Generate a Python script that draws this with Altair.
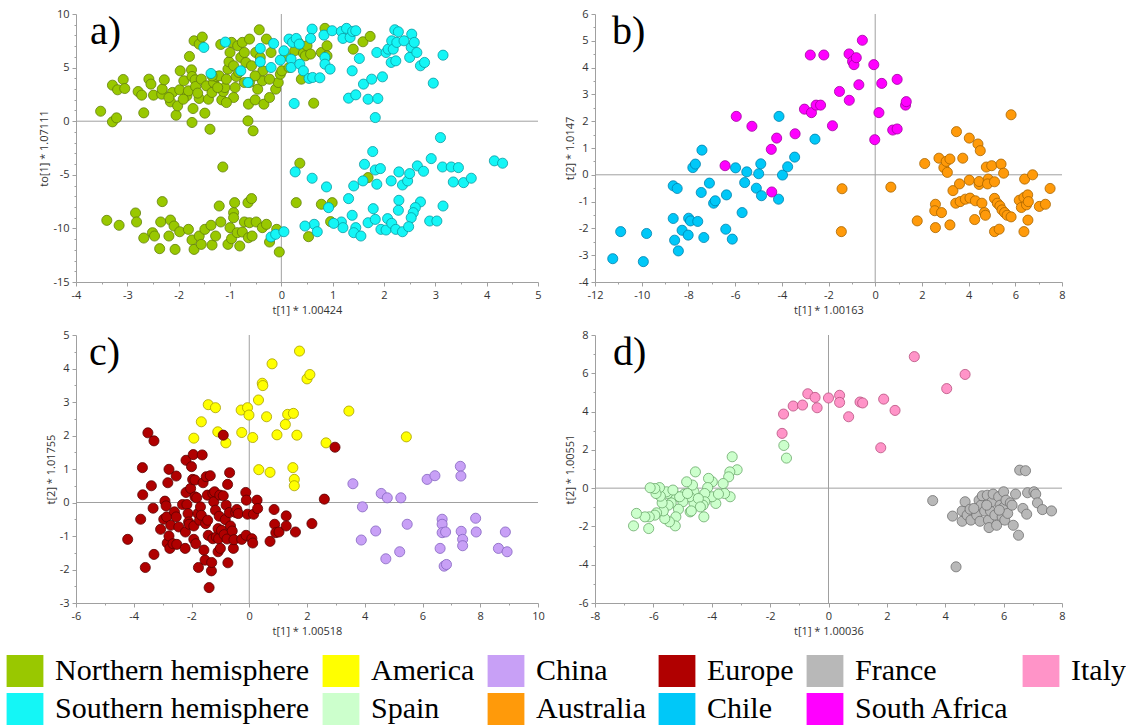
import altair as alt
import numpy as np
import pandas as pd

CATEGORIES = ["Northern hemisphere", "America", "China", "Europe", "France", "Italy",
              "Southern hemisphere", "Spain", "Australia", "Chile", "South Africa"]
FILL_COLORS = ["#99c800", "#ffff00", "#c8a0f6", "#b00000", "#b8b8b8", "#ff94c8",
               "#14f6f6", "#ccffcc", "#ff9a0a", "#00c8f8", "#ff00ff"]
EDGE_COLORS = ["#62800a", "#a89f00", "#8464c0", "#5a0000", "#707070", "#b8507f",
               "#0a9aa2", "#6aa86a", "#a86400", "#0080ac", "#a000a0"]

# ---- panel a ----
NORTH_X = [-3.52, -3.29, -3.19, -3.08, -3.05, -3.29, -3.21, -2.79, -2.72, -2.68, -2.58, -2.54, -2.49, -2.33,
           -2.32, -2.28, -2.16, -2.12, -2.05, -2.02, -1.98, -1.97, -1.90, -1.84, -1.81, -1.79, -1.75, -1.74,
           -1.74, -1.72, -1.70, -1.68, -1.67, -1.60, -1.60, -1.54, -1.56, -1.49, -1.46, -1.42, -1.39, -1.35,
           -1.32, -1.27, -1.21, -1.18, -1.16, -1.14, -1.13, -1.10, -1.07, -1.04, -1.02, -1.00, -0.97, -0.93,
           -0.90, -0.88, -0.85, -0.79, -0.76, -0.72, -0.69, -0.65, -0.64, -0.62, -0.58, -0.55, -0.51, -0.50,
           -0.46, -0.43, -0.37, -0.36, -0.34, -0.29, -0.23, -0.20, -0.11, -0.06, -0.02, 0.01, 0.08, 0.15,
           0.26, 0.33, 0.39, 0.43, 0.47, 0.50, 0.57, 0.63, 0.78, 0.85, 0.89, 0.89, 1.59, 1.73, 1.40, -0.41,
           -0.23, -0.93, -1.07, -1.35, -1.24, -2.19, -1.91, -1.63, -0.83, -0.72, -0.62, -0.51,
           -3.40, -3.16, -2.84, -2.82, -2.68, -2.51, -2.47, -2.37, -2.32, -2.35, -2.16, -2.19, -2.07, -2.09,
           -1.98, -1.81, -1.74, -1.70, -1.60, -1.56, -1.49, -1.35, -1.37, -1.28, -1.21, -1.18, -1.04, -1.00,
           -0.97, -0.93, -0.93, -0.91, -0.86, -0.81, -0.72, -0.76, -0.65, -0.64, -0.58, -0.62, -0.57, -0.49,
           -0.37, -0.29, -0.23, -0.04, -0.09, 0.36, 0.29, 0.53, 0.78, 0.99, 0.96, 1.69]
NORTH_Y = [0.93, 3.36, 2.93, 3.89, 3.05, -0.06, 0.31, 2.77, 2.43, 0.78, 3.92, 3.46, 2.43, 2.52,
           2.99, 3.86, 1.81, 2.68, 0.56, 1.43, 2.93, 4.70, 3.77, 2.37, 2.83, 6.04, 4.79, 4.17,
           -0.12, 1.18, 7.50, 3.86, 3.24, 7.19, 2.12, 7.85, 3.92, 0.75, 3.30, 2.05, -0.75, 2.68,
           3.61, 4.17, 4.23, 7.16, 1.99, -4.27, 2.77, 3.14, 3.92, 4.86, 5.54, 6.41, 7.35, 5.17,
           3.14, 4.17, 7.04, 5.95, 7.35, 6.41, 5.48, 0.03, 1.59, 7.66, 5.17, -0.90, 1.99, 6.41,
           2.99, 8.53, 3.77, 4.70, 1.59, 7.66, 2.21, 6.41, 2.99, 3.61, 4.39, 4.70, 6.10, 5.01,
           6.57, 7.35, 3.92, 6.35, 6.10, 7.04, 6.26, 1.68, 6.41, 8.66, 7.04, 6.10, 7.41, 7.91, 6.72, 5.95,
           3.92, 2.21, 1.74, 4.23, 3.14, 2.21, 2.05, 2.62, 4.55, 3.61, 3.61, 4.23,
           -9.25, -9.71, -8.56, -9.40, -10.90, -10.40, -10.71, -11.89, -7.50, -9.40, -9.22, -10.71, -11.96, -9.78,
           -10.31, -10.09, -11.08, -11.96, -10.71, -11.49, -10.09, -11.55, -9.71, -10.71, -7.91, -9.40, -11.49, -9.93,
           -10.96, -8.53, -9.00, -7.60, -10.40, -11.64, -9.40, -10.34, -7.60, -10.87, -7.22, -9.47, -10.71, -9.40,
           -9.93, -9.62, -11.27, -12.20, -10.09, -3.92, -7.60, -10.77, -7.75, -7.60, -9.37, -5.26]
SOUTH_X = [-1.51, -1.37, -1.09, -0.79, -0.65, -0.41, -0.41, -0.20, -0.15, -0.02, 0.05, 0.15, 0.19, 0.22,
           0.29, 0.35, 0.19, 0.25, 0.36, 0.43, 0.54, 0.60, 0.57, 0.61, 0.75, 0.83, 0.85, 0.85, 0.95,
           0.99, 1.17, 1.20, 1.27, 1.34, 1.39, 1.45, 1.38, 1.31, 1.45, 1.52, 1.60, 1.69, 1.76, 1.86,
           1.83, 1.88, 1.97, 2.04, 2.08, 2.14, 2.15, 2.18, 2.21, 2.23, 2.25, 2.28, 2.39, 2.50, 2.53,
           2.54, 2.59, 2.64, 2.71, 2.79, 2.96, 3.15,
           3.10, 1.78, 1.62, 1.83, 1.93, 0.27, 0.60, 0.88, 1.59, 1.86, 1.41, 2.14, 2.29, 2.36, 2.46,
           2.50, 2.65, 2.77, 2.92, 3.14, 3.31, 3.45, 3.55, 3.70, 4.15, 4.31, 3.35, 1.31, 0.92, 1.38,
           1.79, 2.29, 2.28, 2.71, 2.61, 2.57, 2.53, 3.15, 2.89, 3.03, 2.07, 1.94, 2.04, 2.15, 1.69,
           1.83, 2.23, 2.36, 2.48, 1.17, 1.45, 1.41, 1.55, 1.20, 1.02, 0.64, 0.46, 0.70, -0.20, -0.11, 0.05]
SOUTH_Y = [6.88, 4.45, 7.38, 4.70, 3.61, 6.79, 5.54, 5.01, 7.25, 5.70, 6.57, 7.66, 5.79, 7.35,
           7.72, 7.19, 5.01, 1.65, 5.32, 4.70, 3.99, 8.59, 7.72, 4.08, 4.05, 8.03, 5.95, 5.32, 4.86,
           8.44, 8.37, 7.72, 8.66, 7.81, 8.37, 8.44, 4.70, 2.15, 2.46, 5.85, 3.46, 2.05, 3.92, 6.41,
           0.34, 2.12, 4.14, 6.41, 6.72, 5.48, 7.50, 6.72, 8.53, 5.63, 7.35, 8.34, 7.50, 5.95, 6.88,
           8.12, 7.35, 6.41, 5.17, 5.48, 3.55, 6.16,
           -1.53, -2.83, -4.02, -4.55, -4.42, -4.73, -5.32, -6.13, -5.57, -5.88, -6.04, -5.57, -4.73, -5.95, -5.57,
           -4.89, -4.17, -4.67, -3.49, -4.27, -4.27, -4.33, -5.73, -5.32, -3.70, -3.92, -5.67, -7.22, -8.06, -8.78,
           -8.16, -7.38, -8.31, -7.53, -8.06, -8.53, -9.00, -7.91, -9.31, -9.31, -9.09, -10.09, -10.15, -9.53, -9.47,
           -9.16, -10.09, -10.31, -9.84, -9.40, -9.93, -10.40, -10.71, -9.93, -9.53, -9.62, -9.78, -10.31, -10.80, -10.55, -10.31]

# ---- panel b ----
CHILE_X = [-11.24, -10.90, -9.93, -9.79, -8.65, -8.48, -8.65, -8.59, -8.43, -8.27, -8.01, -7.99, -7.91,
           -7.81, -7.70, -7.60, -7.45, -7.42, -7.34, -7.10, -6.92, -6.85, -6.40, -6.37, -6.12, -5.98,
           -5.70, -5.59, -5.50, -5.09, -4.99, -4.90, -4.87, -4.12, -4.14, -3.97, -3.75, -3.45, -2.58]
CHILE_Y = [-3.13, -2.12, -3.24, -2.19, -0.41, -0.51, -1.63, -2.44, -2.84, -2.07, -2.25, -1.62, -1.72,
           0.27, 0.40, -1.74, -0.66, 0.92, -2.34, -0.31, -1.06, -0.97, -2.03, -0.75, -2.40, 0.26,
           -1.41, -0.29, 0.11, -0.50, 0.04, 0.41, -0.78, 2.18, -0.91, -0.01, 0.30, 0.66, 1.33]
SAFRICA_X = [-6.43, -5.95, -5.28, -4.45, -4.43, -4.22, -3.43, -3.03, -2.78, -2.73, -2.53, -2.34, -2.20,
             -1.83, -1.53, -1.12, -1.11, -0.97, -0.91, -0.81, -0.70, -0.55, -0.06, -0.02, 0.16, 0.28,
             0.75, 0.94, 0.94, 1.30, 1.33]
SAFRICA_Y = [0.34, 2.18, 1.81, 0.95, -0.64, 1.37, 1.53, 2.45, 4.47, 2.32, 2.60, 2.60, 4.47,
             1.83, 3.11, 4.51, 2.78, 4.23, 4.11, 4.37, 3.36, 5.02, 4.11, 1.31, 2.32, 3.41,
             1.67, 1.71, 3.56, 2.60, 2.73]
AUSTRALIA_X = [-1.42, -1.45, 0.67, 1.80, 2.12, 2.58, 2.55, 2.58, 2.73, 2.84, 2.94, 3.04, 3.09, 3.20,
               3.20, 3.33, 3.45, 3.48, 3.61, 3.64, 3.75, 3.86, 4.03, 4.06, 4.03, 4.26, 4.29, 4.40,
               4.45, 4.45, 4.50, 4.57, 4.68, 4.76, 4.84, 4.81, 4.72, 4.99, 5.11, 5.11, 5.11, 5.23,
               5.31, 5.34, 5.39, 5.43, 5.50, 5.54, 5.65, 5.82, 5.82, 6.17, 6.26, 6.37, 6.40, 6.37,
               6.48, 6.53, 6.56, 6.54, 6.74, 7.03, 7.29, 7.49]
AUSTRALIA_Y = [-0.52, -2.12, -0.46, -1.72, 0.42, -1.10, -1.34, -1.97, 0.62, -1.41, 0.27, 0.50, 0.09, 0.59,
               -1.87, -0.59, -1.06, 1.61, -0.34, -1.00, 0.62, -0.91, -0.20, -0.87, 1.37, -1.67, -0.97, 1.15,
               -0.36, -0.25, 0.90, -1.06, -1.41, 0.29, -0.16, -0.34, -1.51, 0.34, -0.26, -0.88, -2.12, -1.06,
               -2.03, -1.16, 0.40, -1.31, 0.06, -1.41, -1.51, 2.24, -1.57, -0.95, -1.22, -0.85, -0.16, -2.12,
               -1.12, -0.75, -1.00, -1.69, 0.00, -1.18, -1.10, -0.51]

# ---- panel c ----
AMERICA_X = [-1.92, -1.66, -1.42, -1.17, -1.09, -0.81, -0.28, -0.26, -0.06, -0.01, 0.12, 0.32, 0.33,
             0.45, 0.47, 0.60, 0.72, 0.79, 0.96, 1.25, 1.33, 1.51, 1.53, 1.56, 1.56, 1.65, 1.74, 2.00,
             2.10, 2.66, 3.45, 5.44]
AMERICA_Y = [1.92, 2.41, 2.92, 2.83, 2.11, 1.78, 2.76, 2.09, 2.83, 2.61, 1.94, 3.06, 0.98,
             3.56, 3.49, 2.56, 0.90, 4.14, 2.02, 2.33, 2.63, 1.04, 2.66, 0.69, 0.50, 2.01, 4.52, 3.69,
             3.82, 1.78, 2.73, 1.96]
CHINA_X = [3.59, 3.92, 3.88, 4.38, 4.57, 4.73, 4.78, 5.21, 5.25, 5.47, 6.16, 6.43, 6.61, 6.68, 6.68,
           6.68, 6.75, 6.83, 6.80, 7.31, 7.33, 7.34, 7.39, 7.39, 7.84, 7.86, 8.63, 8.87, 8.93]
CHINA_Y = [0.56, -0.13, -1.12, -0.85, 0.27, -1.68, 0.14, -1.47, 0.14, -0.65, 0.69, 0.80, -1.37, -0.50, -0.65,
           -0.90, -1.90, -1.85, -0.88, 1.08, 0.79, -0.86, -1.10, -1.29, -0.47, -0.88, -1.37, -0.88, -1.47]
EUROPE_X = [-4.21, -3.76, -3.70, -3.69, -3.60, -3.51, -3.39, -3.33, -3.30, -3.30, -3.07, -2.92, -2.88,
            -2.96, -2.86, -2.84, -2.82, -2.78, -2.78, -2.75, -2.72, -2.64, -2.59, -2.53, -2.53, -2.51,
            -2.44, -2.31, -2.22, -2.21, -2.19, -2.19, -2.16, -2.12, -2.10, -2.08, -2.03, -2.00, -1.96,
            -1.94, -1.92, -1.92, -1.88, -1.88, -1.85, -1.82, -1.78, -1.76, -1.72, -1.69, -1.66, -1.63,
            -1.60, -1.57, -1.53, -1.51, -1.49, -1.45, -1.44, -1.42, -1.39, -1.35, -1.31, -1.30, -1.26,
            -1.26, -1.23, -1.20, -1.17, -1.14, -1.08, -1.08, -1.06, -1.04, -1.02, -1.00, -0.96, -0.90,
            -0.90, -0.87, -0.83, -0.80, -0.77, -0.75, -0.74, -0.69, -0.68, -0.65, -0.59, -0.55, -0.53,
            -0.47, -0.43, -0.38, -0.26, -0.12, -0.10, -0.11, -0.06, 0.09, 0.12, 0.15, 0.27, 0.29, 0.72,
            0.86, 0.88, 0.92, 1.03, 1.28, 1.28, 1.60, 2.17, 2.60, 2.97]
EUROPE_Y = [-1.10, -0.50, 1.04, 0.23, -1.94, 2.08, 0.50, -0.17, 1.84, -1.55, -0.80, 0.04, -0.10,
            -0.50, -0.43, -1.21, 0.59, 0.99, -1.00, -1.37, -0.68, -1.23, -0.28, 0.79, -0.43, -1.25,
            -0.73, -0.06, -1.37, -0.88, 1.26, 0.30, -0.06, -0.33, -0.58, -0.65, 0.42, 1.07, 0.69,
            1.43, -1.10, -0.70, 0.67, 0.17, -1.23, 0.14, -0.33, -1.94, -0.53, -0.13, -0.38, 1.42,
            0.59, -1.42, -1.72, -0.63, 0.77, 0.22, -0.53, -0.98, -2.54, 0.80, -2.04, -1.79, -1.08,
            0.27, 0.02, 0.32, -0.23, -1.03, -1.47, -0.78, -1.08, -0.41, 0.22, -1.37, -0.83, 2.01,
            0.20, -0.96, -0.51, -0.08, -1.09, 0.54, -1.80, -0.30, 0.89, -0.70, -0.85, -1.37, -1.11,
            -0.30, -0.21, -0.33, -1.10, 0.30, 0.07, -0.98, -0.35, -1.08, -1.21, -0.35, 0.07, -0.18, -1.16,
            -0.21, -0.65, -0.90, -0.88, -0.40, -0.70, -0.88, -0.63, 0.10, 1.65]

# ---- panel d ----
ITALY_X = [-1.59, -1.54, -1.21, -0.89, -0.71, -0.46, -0.39, 0.00, 0.38, 0.38, 0.69, 1.08, 1.17, 1.79,
           1.89, 2.28, 2.94, 4.05, 4.68]
ITALY_Y = [2.86, 3.87, 4.29, 4.34, 4.93, 4.74, 4.20, 4.71, 4.85, 4.48, 3.73, 4.50, 4.45, 2.11,
           4.65, 4.06, 6.87, 5.20, 5.94]
SPAIN_X = [-1.53, -1.44, -3.30, -3.13, -3.38, -3.42, -3.37, -3.61, -3.56, -3.86, -3.98, -3.99, -4.11,
           -4.14, -4.24, -4.24, -4.27, -4.30, -4.56, -4.61, -4.61, -4.66, -4.74, -4.76, -4.86, -4.94,
           -4.99, -5.14, -5.23, -5.23, -5.25, -5.39, -5.45, -5.49, -5.51, -5.55, -5.61, -5.66, -5.70,
           -5.76, -5.79, -5.89, -5.91, -5.95, -5.95, -6.14, -6.11, -6.16, -6.29, -6.58, -6.68, -5.10,
           -4.46, -4.39, -3.77, -4.83, -5.33, -4.70]
SPAIN_Y = [2.23, 1.57, 1.64, 0.96, 0.85, 0.59, -0.45, 0.24, -0.28, -0.80, 0.33, -0.45, 0.51,
           0.03, -0.28, -0.71, -1.50, -0.89, 0.85, -0.19, -0.77, 0.16, -1.24, -0.45, 0.33, -0.31,
           -0.71, -1.10, -1.50, -0.42, -1.97, -0.77, -1.76, -0.89, -0.28, -0.19, -1.59, -1.19, -0.77,
           -0.42, 0.03, -1.29, -0.28, -0.02, -1.41, -1.50, 0.02, -2.11, -1.50, -1.32, -1.97, -0.45,
           -0.54, -0.98, -0.31, -0.28, -0.10, -1.19]
FRANCE_X = [3.57, 4.25, 4.37, 4.58, 4.58, 4.68, 4.75, 4.85, 4.88, 5.08, 5.16, 5.19, 5.23, 5.27, 5.35,
            5.44, 5.48, 5.50, 5.55, 5.60, 5.64, 5.70, 5.76, 5.83, 5.88, 5.95, 6.00, 6.00, 6.04, 6.08,
            6.14, 6.23, 6.29, 6.33, 6.41, 6.51, 6.55, 6.66, 6.75, 6.79, 6.82, 7.04, 7.10, 7.16, 7.33,
            7.64, 5.85, 5.42, 4.98]
FRANCE_Y = [-0.65, -1.46, -4.11, -1.73, -1.19, -0.71, -1.41, -1.10, -1.67, -1.41, -0.63, -1.73, -0.89, -0.40, -1.20,
            -0.37, -1.67, -2.06, -1.20, -0.71, -0.31, -1.41, -1.94, -0.45, -0.89, -1.50, -0.19, -1.01, -1.67, -0.63,
            -1.32, -0.77, -0.89, -1.94, -0.31, -2.46, 0.94, -1.06, 0.91, -1.36, -0.24, -0.19, -0.31, -0.77, -1.12,
            -1.19, -1.15, -0.89, -1.06]

PANEL_LABELS = ["a)", "b)", "c)", "d)"]
X_TITLES = ["t[1] * 1.00424", "t[1] * 1.00163", "t[1] * 1.00518", "t[1] * 1.00036"]
Y_TITLES = ["to[1] * 1.07111", "t[2] * 1.0147", "t[2] * 1.01755", "t[2] * 1.00551"]

AXIS_GRAY = "#a0a0a0"
LABEL_FONT = "Open Sans"


def frame(groups):
    rows = []
    for name, xs, ys in groups:
        for x, y in zip(xs, ys):
            rows.append({"x": x, "y": y, "group": name, "edge": name})
    return pd.DataFrame(rows)


def ticks(lo, hi, major, minor):
    allv = np.round(np.arange(lo, hi + minor / 2, minor), 3)
    majors = [float(v) for v in allv if abs(v / major - round(v / major)) < 1e-6]
    minors = [float(v) for v in allv if abs(v / major - round(v / major)) >= 1e-6]
    return majors, minors


LEGEND = alt.Legend(
    title=None, orient="none", legendX=-67, legendY=641, direction="horizontal",
    columns=6, gridAlign="each", symbolType="M-1.15,-1H1.15V1H-1.15Z", symbolSize=1024,
    symbolStrokeWidth=0, symbolOpacity=1, labelFont="Liberation Serif", labelFontSize=30,
    labelColor="#000000", labelLimit=500, labelOffset=14, columnPadding=12, rowPadding=6,
)

ZERO = pd.DataFrame({"zero": [0]})


def panel(idx, df, xdom, ydom, xstep, ystep, width, label_dx):
    xmaj, xmin = ticks(xdom[0], xdom[1], xstep[0], xstep[1])
    ymaj, ymin = ticks(ydom[0], ydom[1], ystep[0], ystep[1])
    xscale = alt.Scale(domain=xdom, nice=False, zero=False)
    yscale = alt.Scale(domain=ydom, nice=False, zero=False)
    lab = "'' + datum.value"
    xaxis = alt.Axis(values=xmaj, labelExpr=lab, tickSize=4, labelPadding=3, title=X_TITLES[idx],
                     titlePadding=4, labelFlush=False, labelOverlap=False, orient="bottom")
    yaxis = alt.Axis(values=ymaj, labelExpr=lab, tickSize=4, labelPadding=3, title=Y_TITLES[idx],
                     titlePadding=3, labelFlush=False, labelOverlap=False, orient="left")
    xminor = alt.Axis(values=xmin, labels=False, domain=False, tickSize=2, title=None, orient="bottom")
    yminor = alt.Axis(values=ymin, labels=False, domain=False, tickSize=2, title=None, orient="left")

    vrule = alt.Chart(ZERO).mark_rule(color=AXIS_GRAY, strokeWidth=1).encode(
        x=alt.X("zero:Q", scale=xscale, axis=xminor))
    hrule = alt.Chart(ZERO).mark_rule(color=AXIS_GRAY, strokeWidth=1).encode(
        y=alt.Y("zero:Q", scale=yscale, axis=yminor))
    pts = alt.Chart(df).mark_circle(size=102, opacity=1, strokeWidth=0.8).encode(
        x=alt.X("x:Q", scale=xscale, axis=xaxis),
        y=alt.Y("y:Q", scale=yscale, axis=yaxis),
        fill=alt.Fill("group:N", scale=alt.Scale(domain=CATEGORIES, range=FILL_COLORS), legend=LEGEND),
        stroke=alt.Stroke("edge:N", scale=alt.Scale(domain=CATEGORIES, range=EDGE_COLORS), legend=None),
    )
    label = alt.Chart(pd.DataFrame({"t": [PANEL_LABELS[idx]]})).mark_text(
        font="Liberation Serif", fontSize=40, align="left", baseline="alphabetic", color="#000000"
    ).encode(text="t:N", x=alt.value(label_dx), y=alt.value(30))
    return alt.layer(vrule, hrule, pts, label).resolve_axis(
        x="independent", y="independent").properties(width=width, height=268)


df_a = frame([("Northern hemisphere", NORTH_X, NORTH_Y), ("Southern hemisphere", SOUTH_X, SOUTH_Y)])
df_b = frame([("Chile", CHILE_X, CHILE_Y), ("South Africa", SAFRICA_X, SAFRICA_Y),
              ("Australia", AUSTRALIA_X, AUSTRALIA_Y)])
df_c = frame([("America", AMERICA_X, AMERICA_Y), ("China", CHINA_X, CHINA_Y), ("Europe", EUROPE_X, EUROPE_Y)])
df_d = frame([("Italy", ITALY_X, ITALY_Y), ("Spain", SPAIN_X, SPAIN_Y), ("France", FRANCE_X, FRANCE_Y)])

pa = panel(0, df_a, [-4, 5], [-15, 10], (1, 0.5), (5, 1), 462, 14)
pb = panel(1, df_b, [-12, 8], [-4, 6], (2, 1), (1, 0.5), 467, 17)
pc = panel(2, df_c, [-6, 10], [-3, 5], (2, 1), (1, 0.5), 462, 13)
pd_ = panel(3, df_d, [-8, 8], [-6, 8], (2, 1), (2, 1), 467, 18)

chart = alt.concat(pa, pb, pc, pd_, columns=2, spacing={"row": 53, "column": 57}, bounds="flush").properties(
    padding={"left": 9, "top": 8, "right": 0, "bottom": 0}
).configure_view(strokeWidth=0).configure_axis(
    grid=False, labelFont=LABEL_FONT, labelFontSize=11, labelColor="#333333",
    titleFont=LABEL_FONT, titleFontSize=11, titleFontWeight="normal", titleColor="#333333",
    domainColor=AXIS_GRAY, tickColor=AXIS_GRAY, domainWidth=1, tickWidth=1,
)

chart.save("out.html", embed_options={"renderer": "svg", "actions": False})
